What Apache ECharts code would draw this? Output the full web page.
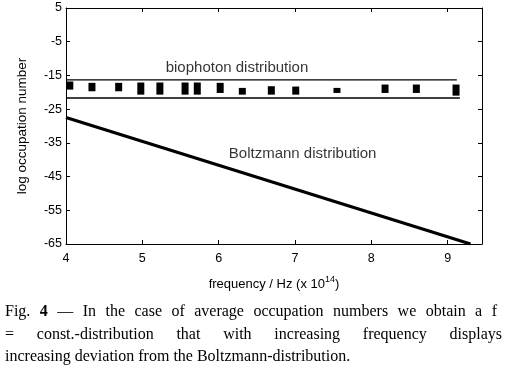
<!DOCTYPE html>
<html><head><meta charset="utf-8">
<script src="https://cdn.jsdelivr.net/npm/echarts@6/dist/echarts.min.js"></script>
<style>html,body{margin:0;padding:0;background:#fff}#c{width:510px;height:384px}</style>
</head><body><div id="c"></div>
<script>
// ---- data ----
const xTicks = [4, 5, 6, 7, 8, 9];
const yTicks = [5, -5, -15, -25, -35, -45, -55, -65];
// biophoton measured points (frequency x1e14 Hz, top and bottom of each mark)
const bioFreq = [4.05, 4.34, 4.69, 4.98, 5.23, 5.56, 5.72, 6.02, 6.31, 6.69, 7.01, 7.55, 8.18, 8.59, 9.11];
const bioHigh = [-16.8, -17.2, -17.2, -17.1, -17.1, -17.1, -17.1, -17.2, -18.7, -18.2, -18.3, -18.7, -17.7, -17.7, -17.7];
const bioLow  = [-19.2, -19.7, -19.7, -20.7, -20.7, -20.7, -20.7, -20.2, -20.7, -20.7, -20.7, -20.2, -20.2, -20.2, -21.0];
// band limits of the biophoton distribution
const bandUpperX = [4, 9.12];
const bandUpperY = [-16.3, -16.3];
const bandLowerX = [4, 9.16];
const bandLowerY = [-21.7, -21.7];
// Boltzmann distribution
const boltzX = [4, 9.3];
const boltzY = [-27.5, -65];
// annotations
const annText = ['biophoton distribution', 'Boltzmann distribution'];
const annX = [6.24, 7.1];
const annY = [-12.8, -38.3];
const xName = 'frequency / Hz (x 10';
const xNameSup = '14';
const yName = 'log occupation number';
const caption = [
  ['Fig.', '4', '\u2014', 'In', 'the', 'case', 'of', 'average', 'occupation', 'numbers', 'we', 'obtain', 'a', 'f'],
  ['=', 'const.-distribution', 'that', 'with', 'increasing', 'frequency', 'displays'],
  ['increasing deviation from the Boltzmann-distribution.']
];

// ---- chart ----
const chart = echarts.init(document.getElementById('c'), null, {renderer: 'canvas'});
const SANS = 'Liberation Sans, Arial, Helvetica, sans-serif';
const SERIF = 'Liberation Serif, Times New Roman, serif';

const pair = (xs, ys) => xs.map((x, i) => [x, ys[i]]);

// caption layout (justified lines)
const mctx = document.createElement('canvas').getContext('2d');
const capSize = 16;
const capGraphics = [];
const capLines = [
  {left: 5, right: 497, y: 312, justify: true},
  {left: 5, right: 502, y: 335, justify: true},
  {left: 5, right: 0, y: 357, justify: false}
];
caption.forEach((words, li) => {
  const L = capLines[li];
  const fonts = words.map(w => (w === '4' ? 'bold ' : '') + capSize + 'px ' + SERIF);
  const widths = words.map((w, i) => { mctx.font = fonts[i]; return mctx.measureText(w).width; });
  const sum = widths.reduce((a, b) => a + b, 0);
  const gap = L.justify && words.length > 1 ? (L.right - L.left - sum) / (words.length - 1) : 0;
  let x = L.left;
  words.forEach((w, i) => {
    capGraphics.push({
      type: 'text', x: x, y: L.y,
      style: {text: w, font: fonts[i], fill: '#000', verticalAlign: 'middle', align: 'left'}
    });
    x += widths[i] + gap;
  });
});

const axisCommon = () => ({
  axisLine: {show: true, onZero: false, lineStyle: {color: '#000', width: 1}},
  axisTick: {show: true, inside: true, length: 4, lineStyle: {color: '#000'}},
  splitLine: {show: false}
});

chart.setOption({
  animation: false,
  backgroundColor: '#fff',
  grid: {left: 66, right: 28, top: 8, bottom: 140},
  xAxis: [
    Object.assign({
      type: 'value', min: 4, max: 9.45, interval: 1, position: 'bottom',
      name: '{a|' + xName + '}{s|' + xNameSup + '}{a|)}',
      nameLocation: 'middle', nameGap: 31,
      nameTextStyle: {
        rich: {
          a: {fontFamily: SANS, fontSize: 13, color: '#000', lineHeight: 16, verticalAlign: 'bottom'},
          s: {fontFamily: SANS, fontSize: 9, color: '#000', lineHeight: 16, verticalAlign: 'top'}
        }
      },
      axisLabel: {color: '#000', fontFamily: SANS, fontSize: 12.5, margin: 8, showMaxLabel: false,
        formatter: v => (xTicks.indexOf(v) >= 0 ? String(v) : '')}
    }, axisCommon()),
    Object.assign({
      type: 'value', min: 4, max: 9.45, interval: 1, position: 'top',
      axisLabel: {show: false}
    }, axisCommon())
  ],
  yAxis: [
    Object.assign({
      type: 'value', min: -65, max: 5, interval: 10, position: 'left',
      name: yName, nameLocation: 'middle', nameGap: 37, nameRotate: 90,
      nameTextStyle: {color: '#000', fontFamily: SANS, fontSize: 13.5},
      axisLabel: {color: '#000', fontFamily: SANS, fontSize: 12.5, margin: 4,
        formatter: v => (yTicks.indexOf(v) >= 0 ? String(v) : '')}
    }, axisCommon()),
    Object.assign({
      type: 'value', min: -65, max: 5, interval: 10, position: 'right',
      axisLabel: {show: false}
    }, axisCommon())
  ],
  series: [
    {
      type: 'line', data: pair(bandUpperX, bandUpperY), symbol: 'none',
      lineStyle: {color: '#000', width: 1.3}
    },
    {
      type: 'line', data: pair(bandLowerX, bandLowerY), symbol: 'none',
      lineStyle: {color: '#000', width: 1.6}
    },
    {
      type: 'line', data: pair(boltzX, boltzY), symbol: 'none',
      lineStyle: {color: '#000', width: 3.2}
    },
    {
      type: 'custom',
      data: bioFreq.map((f, i) => [f, bioHigh[i], bioLow[i]]),
      encode: {x: 0, y: [1, 2]},
      renderItem: function (params, api) {
        const top = api.coord([api.value(0), api.value(1)]);
        const bot = api.coord([api.value(0), api.value(2)]);
        const w = 7;
        return {type: 'rect', shape: {x: top[0] - w / 2, y: top[1], width: w, height: bot[1] - top[1]},
          style: {fill: '#000'}};
      }
    },
    {
      type: 'scatter', symbolSize: 0,
      data: annX.map((x, i) => ({value: [x, annY[i]], name: annText[i]})),
      label: {show: true, position: 'inside', formatter: p => p.name, color: '#000',
        fontFamily: SANS, fontSize: 15}
    }
  ],
  graphic: capGraphics
});
</script></body></html>
